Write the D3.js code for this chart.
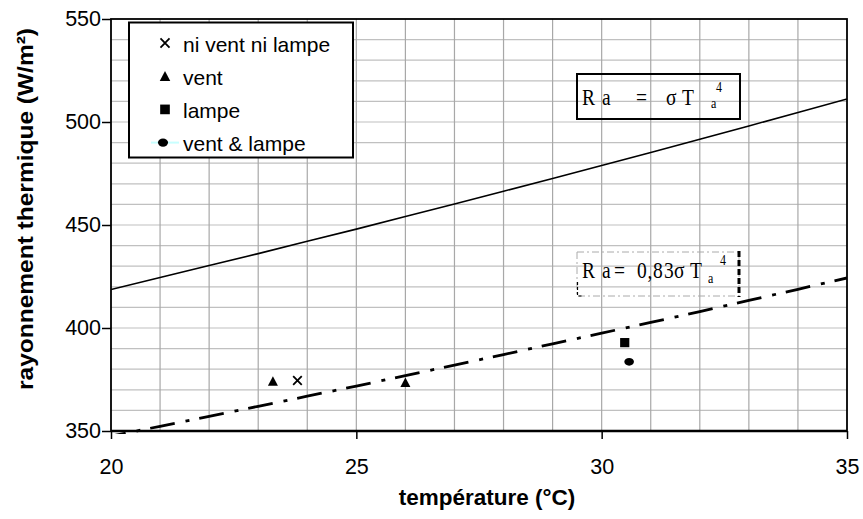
<!DOCTYPE html>
<html><head><meta charset="utf-8">
<script src="https://cdn.jsdelivr.net/npm/d3@7"></script>
<style>body{margin:0;background:#fff}svg{display:block}</style>
</head><body><svg id="c" width="863" height="519"></svg>
<script>
// ---- data ----
const xTicks = [20, 25, 30, 35];
const yTicks = [350, 400, 450, 500, 550];
const lineTemps = [20, 21, 22, 23, 24, 25, 26, 27, 28, 29, 30, 31, 32, 33, 34, 35];
const raBlackBody = [418.7, 424.5, 430.3, 436.1, 442.1, 448.0, 454.1, 460.2, 466.4, 472.6, 478.9, 485.2, 491.6, 498.1, 504.6, 511.2];
const raCorrected = [347.5, 352.3, 357.1, 362.0, 366.9, 371.8, 376.9, 382.0, 387.1, 392.3, 397.5, 402.7, 408.0, 413.4, 418.8, 424.3];
const seriesNames = ["ni vent ni lampe", "vent", "lampe", "vent & lampe"];
const seriesTemps = [[23.8], [23.3, 26.0], [30.47], [30.56]];
const seriesValues = [[374.5], [374.2, 373.6], [392.9], [383.6]];

// ---- layout ----
const svg = d3.select("#c");
const L = 111, R = 847, T = 19, B = 431;
const x = d3.scaleLinear().domain([20, 35]).range([L, R]);
const y = d3.scaleLinear().domain([350, 550]).range([B, T]);
const sans = "'Liberation Sans', Arial, sans-serif";
const serif = "'Liberation Serif', 'Times New Roman', serif";

// grid
const grid = svg.append("g");
grid.selectAll(".hg").data(d3.range(360, 550, 10)).enter().append("line")
  .attr("x1", L).attr("x2", R).attr("y1", d => y(d)).attr("y2", d => y(d))
  .attr("stroke", "#c0c0c0").attr("stroke-width", 1.2);
grid.selectAll(".vg").data(d3.range(21, 35, 1)).enter().append("line")
  .attr("y1", T).attr("y2", B).attr("x1", d => x(d)).attr("x2", d => x(d))
  .attr("stroke", "#a8a8a8").attr("stroke-width", 1.2);

// clip
svg.append("clipPath").attr("id", "clip").append("rect")
  .attr("x", L).attr("y", T).attr("width", R - L).attr("height", B - T + 3);

const line = d3.line().x((d, i) => x(lineTemps[i])).y(d => y(d));
svg.append("path").datum(raBlackBody).attr("d", line).attr("clip-path", "url(#clip)")
  .attr("fill", "none").attr("stroke", "#000").attr("stroke-width", 1.6);
svg.append("path").datum(raCorrected).attr("d", line).attr("clip-path", "url(#clip)")
  .attr("fill", "none").attr("stroke", "#000").attr("stroke-width", 2.8)
  .attr("stroke-dasharray", "25,11,4,10").attr("stroke-dashoffset", 10);

// axes
const ax = svg.append("g").attr("transform", `translate(0,${B})`)
  .call(d3.axisBottom(x).tickValues(xTicks).tickSize(8).tickSizeOuter(0).tickPadding(20).tickFormat(d3.format("d")));
const ay = svg.append("g").attr("transform", `translate(${L},0)`)
  .call(d3.axisLeft(y).tickValues(yTicks).tickSize(9).tickSizeOuter(0).tickPadding(1).tickFormat(d3.format("d")));
[ax, ay].forEach(g => {
  g.select(".domain").remove();
  g.selectAll("line").attr("stroke", "#000").attr("stroke-width", 1.5);
  g.selectAll("text").attr("font-family", sans).attr("font-size", 21.5).attr("fill", "#000");
});

// plot border
svg.append("rect").attr("x", L).attr("y", T).attr("width", R - L).attr("height", B - T)
  .attr("fill", "none").attr("stroke", "#000").attr("stroke-width", 1.8);
svg.append("line").attr("x1", L).attr("x2", R).attr("y1", B).attr("y2", B)
  .attr("stroke", "#000").attr("stroke-width", 2.4);

// markers
function marker(g, i, cx, cy, s) {
  if (i === 0) {
    const h = 4.3 * s;
    g.append("path").attr("d", `M${cx - h},${cy - h}L${cx + h},${cy + h}M${cx - h},${cy + h}L${cx + h},${cy - h}`)
      .attr("stroke", "#000").attr("stroke-width", 1.8).attr("fill", "none");
  } else if (i === 1) {
    const w = 5 * s, h = 9 * s;
    g.append("path").attr("d", `M${cx},${cy - h / 2 - 0.5}L${cx + w},${cy + h / 2}L${cx - w},${cy + h / 2}Z`).attr("fill", "#000");
  } else if (i === 2) {
    const h = 4.6 * s;
    g.append("rect").attr("x", cx - h).attr("y", cy - h).attr("width", 2 * h).attr("height", 2 * h).attr("fill", "#000");
  } else {
    g.append("ellipse").attr("cx", cx).attr("cy", cy).attr("rx", 4.8 * s).attr("ry", 3.9 * s).attr("fill", "#000");
  }
}
const pts = svg.append("g");
seriesNames.forEach((n, i) => {
  seriesTemps[i].forEach((t, j) => marker(pts, i, x(t), y(seriesValues[i][j]), 1));
});

// legend
const lg = svg.append("g");
lg.append("rect").attr("x", 129).attr("y", 22.5).attr("width", 224).attr("height", 135)
  .attr("fill", "#fff").attr("stroke", "#000").attr("stroke-width", 2);
seriesNames.forEach((n, i) => {
  const cy = 43 + i * 33.2;
  if (i === 3) lg.append("line").attr("x1", 151).attr("x2", 179).attr("y1", cy).attr("y2", cy)
    .attr("stroke", "#c8ffff").attr("stroke-width", 2);
  marker(lg, i, i === 3 ? 163 : 165, cy, 1.05);
  lg.append("text").attr("x", 183).attr("y", cy + 8.5).text(n)
    .attr("font-family", sans).attr("font-size", 21).attr("fill", "#000");
});

// axis titles
svg.append("text").attr("x", 487).attr("y", 505).attr("text-anchor", "middle")
  .attr("font-family", sans).attr("font-weight", "bold").attr("font-size", 22.5)
  .text("température (°C)");
svg.append("text").attr("transform", "translate(33,209) rotate(-90)").attr("text-anchor", "middle")
  .attr("font-family", sans).attr("font-weight", "bold").attr("font-size", 22)
  .attr("textLength", 362).attr("lengthAdjust", "spacingAndGlyphs")
  .text("rayonnement thermique (W/m²)");

// formula glyphs: [text, x, baseline, size]
function glyphs(g, list) {
  list.forEach(p => g.append("text").attr("transform", `translate(${p[1]},${p[2]}) scale(1,1.2)`)
    .attr("font-family", serif).attr("font-size", p[3]).attr("fill", "#000").text(p[0]));
}

// annotation 1
const a1 = svg.append("g");
a1.append("rect").attr("x", 577).attr("y", 74).attr("width", 163).attr("height", 45)
  .attr("fill", "none").attr("stroke", "#000").attr("stroke-width", 2);
glyphs(a1, [["R", 582, 105, 19.5], ["a", 602, 105, 19.5], ["=", 636, 105, 19.5], ["σ", 666, 105, 19.5],
  ["T", 682, 105, 19.5], ["a", 711, 108, 12], ["4", 716, 92, 12]]);

// annotation 2
const a2 = svg.append("g");
a2.append("rect").attr("x", 577).attr("y", 252).attr("width", 162).attr("height", 44)
  .attr("fill", "none").attr("stroke", "#aaa").attr("stroke-width", 1).attr("stroke-dasharray", "7,3,2,3");
a2.append("line").attr("x1", 739).attr("x2", 739).attr("y1", 251).attr("y2", 297)
  .attr("stroke", "#000").attr("stroke-width", 3).attr("stroke-dasharray", "6,3");
a2.append("path").attr("d", "M577.5,282V296H582")
  .attr("fill", "none").attr("stroke", "#000").attr("stroke-width", 1.2).attr("stroke-dasharray", "3,2");
glyphs(a2, [["R", 582, 278, 19.5], ["a", 602, 278, 19.5], ["=", 614, 278, 19.5], ["0", 637, 278, 19.5],
  [",", 647.5, 278, 19.5], ["8", 653, 278, 19.5], ["3", 664, 278, 19.5], ["σ", 674, 278, 19.5],
  ["T", 690, 278, 19.5], ["a", 708, 283, 12], ["4", 720, 265, 12]]);
</script></body></html>
